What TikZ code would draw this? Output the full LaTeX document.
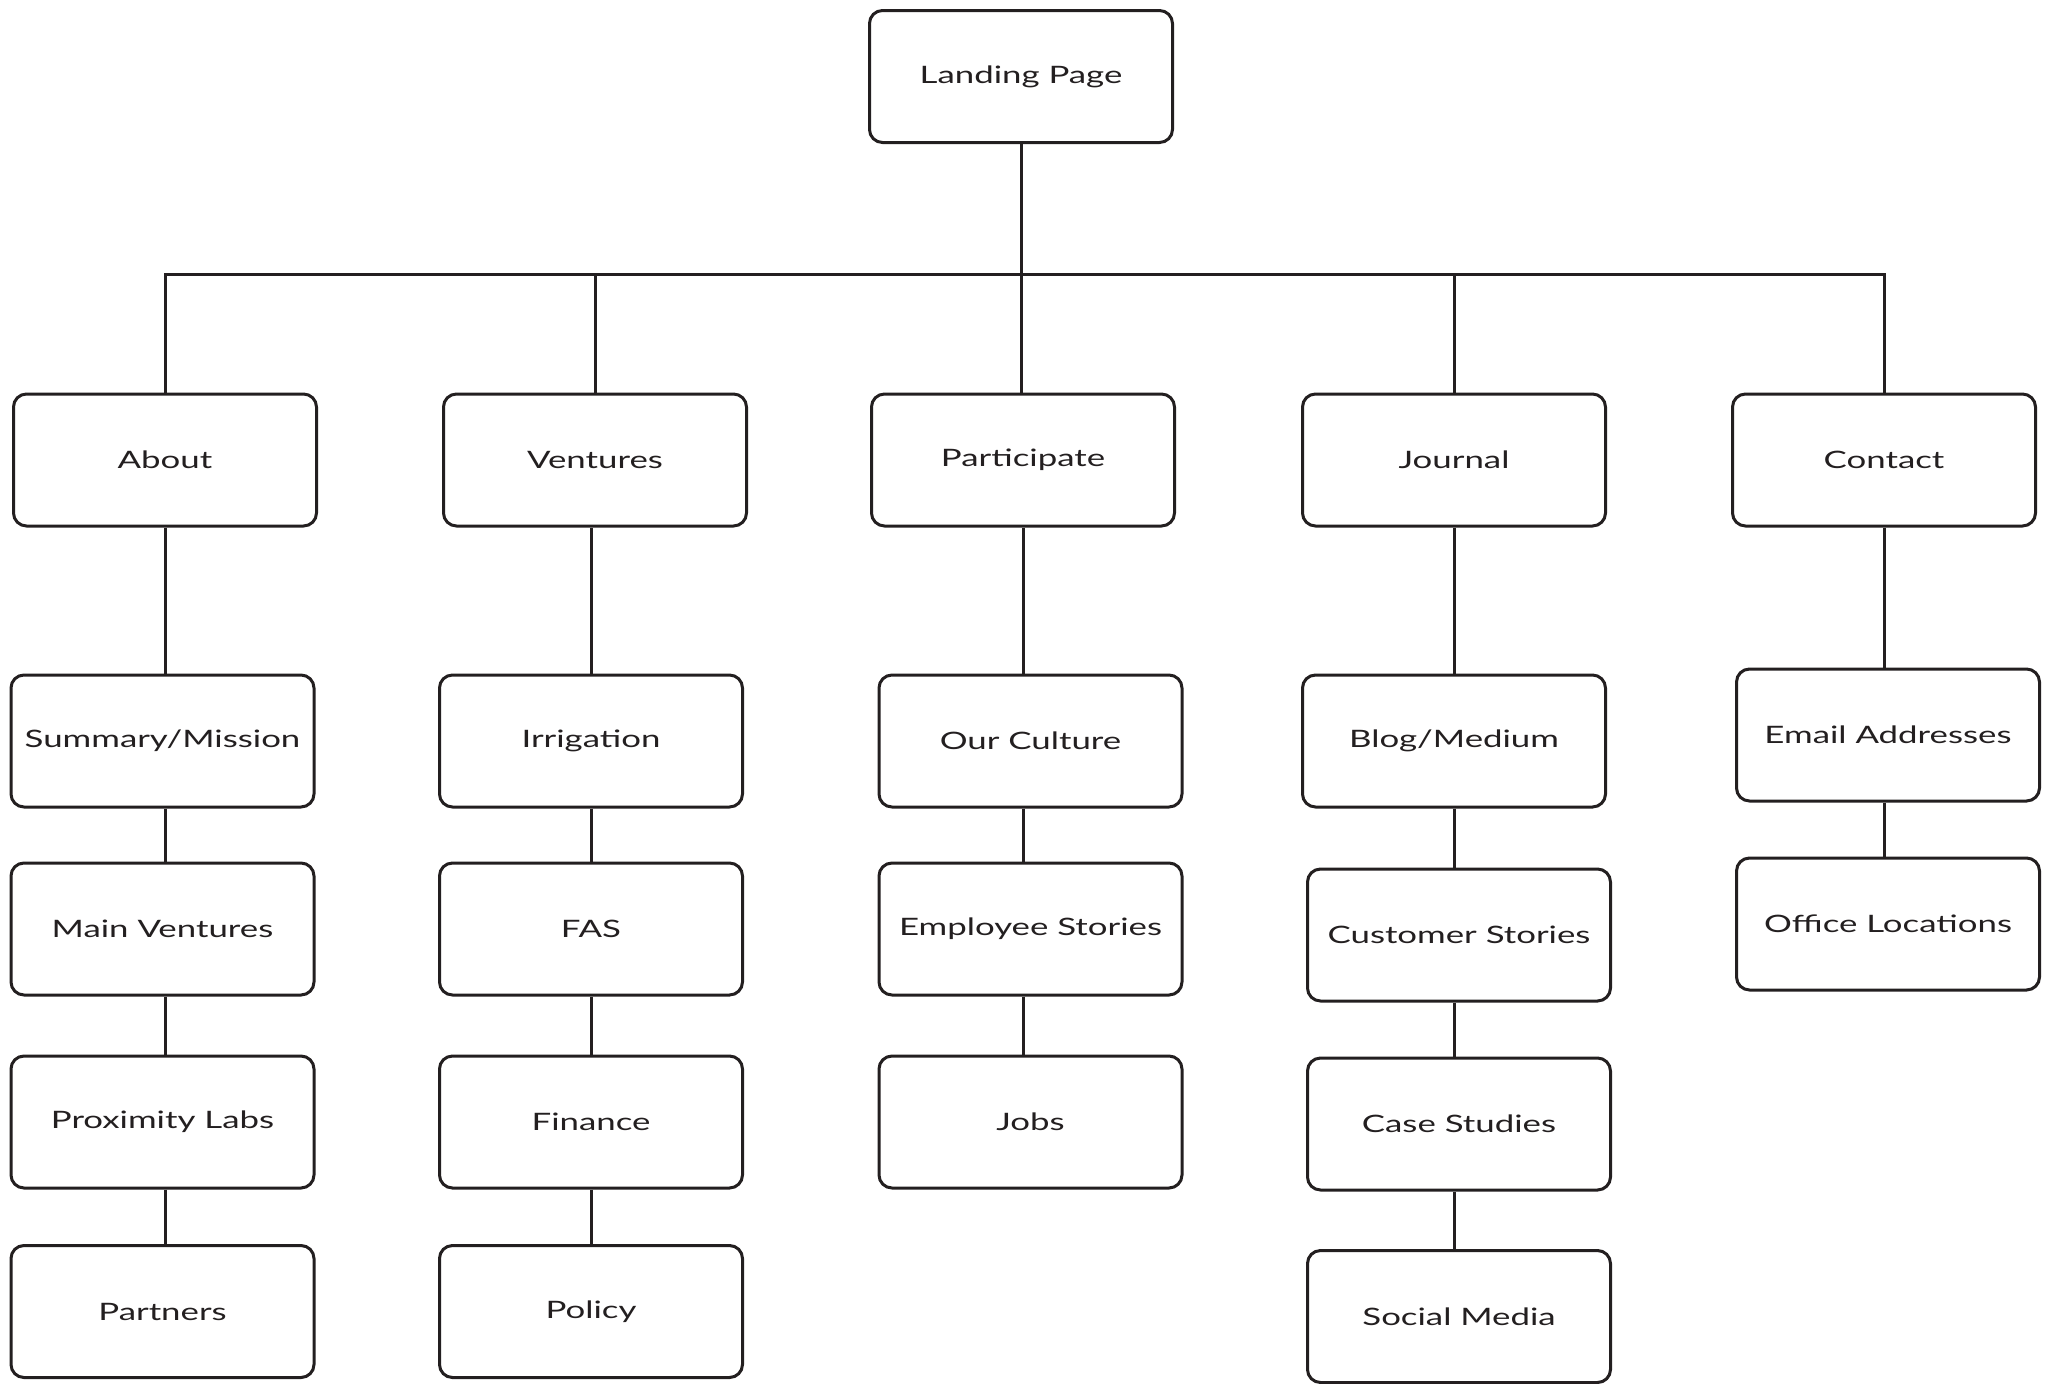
\documentclass[tikz,border=0pt]{standalone}
\usepackage{fontspec}
\setmainfont[FakeStretch=1.45]{Lato}
\usetikzlibrary{positioning}

\definecolor{ink}{HTML}{231F20}

\begin{document}
\begin{tikzpicture}[x=0.5pt, y=-0.5pt, line width=1.5pt,
    page/.style={draw=ink, rounded corners=6.5pt, minimum width=151.5pt,
      minimum height=66pt, inner sep=0pt, text=ink,
      font=\fontsize{12}{14}\selectfont}]
      \useasboundingbox (0,0) rectangle (2050,1383);

      % Define the coordinates
      \coordinate (busL) at (166,274);

      % Draw the top page
      \node[page] (landing) at (1021,76.5) {Landing Page};

      % Draw the main sections
      \node[page] (about) at (165,460) {About};
      \node[page] (ventures) at (595,460) {Ventures};
      \node[page] (participate) at (1023,460) {Participate};
      \node[page] (journal) at (1454,460) {Journal};
      \node[page] (contact) at (1884,460) {Contact};

      % Draw the sub pages
      \node[page] (summary) at (162.5,741) {Summary/Mission};
      \node[page] (mainventures) at (162.5,929) {Main Ventures};
      \node[page] (proximity) at (162.5,1122) {Proximity Labs};
      \node[page] (partners) at (162.5,1311.5) {Partners};

      \node[page] (irrigation) at (591,741) {Irrigation};
      \node[page] (fas) at (591,929) {FAS};
      \node[page] (finance) at (591,1122) {Finance};
      \node[page] (policy) at (591,1311.5) {Policy};

      \node[page] (culture) at (1030.5,741) {Our Culture};
      \node[page] (employee) at (1030.5,929) {Employee Stories};
      \node[page] (jobs) at (1030.5,1122) {Jobs};

      \node[page] (blog) at (1454,741) {Blog/Medium};
      \node[page] (customer) at (1459,935) {Customer Stories};
      \node[page] (casestudies) at (1459,1124) {Case Studies};
      \node[page] (social) at (1459,1316.5) {Social Media};

      \node[page] (email) at (1888,735) {Email Addresses};
      \node[page] (office) at (1888,924) {Office Locations};

      % Draw the tree lines
      \draw[ink] (landing.south) -- (landing.south |- participate.north);
      \draw[ink] (about.north) -- (about.north |- busL) -- (contact.north |- busL) -- (contact.north);
      \draw[ink] (ventures.north) -- (ventures.north |- busL);
      \draw[ink] (journal.north) -- (journal.north |- busL);

      \draw[ink] (about.south) -- (about.south |- summary.north);
      \draw[ink] (summary.south -| about) -- (mainventures.north -| about);
      \draw[ink] (mainventures.south -| about) -- (proximity.north -| about);
      \draw[ink] (proximity.south -| about) -- (partners.north -| about);

      \draw[ink] (irrigation.north) -- (irrigation.north |- ventures.south);
      \draw[ink] (irrigation.south) -- (fas.north);
      \draw[ink] (fas.south) -- (finance.north);
      \draw[ink] (finance.south) -- (policy.north);

      \draw[ink] (participate.south) -- (participate.south |- culture.north);
      \draw[ink] (culture.south -| participate) -- (employee.north -| participate);
      \draw[ink] (employee.south -| participate) -- (jobs.north -| participate);

      \draw[ink] (journal.south) -- (blog.north);
      \draw[ink] (blog.south) -- (customer.north -| blog);
      \draw[ink] (customer.south -| blog) -- (casestudies.north -| blog);
      \draw[ink] (casestudies.south -| blog) -- (social.north -| blog);

      \draw[ink] (contact.south) -- (contact.south |- email.north);
      \draw[ink] (email.south -| contact) -- (office.north -| contact);
    \end{tikzpicture}
\end{document}
